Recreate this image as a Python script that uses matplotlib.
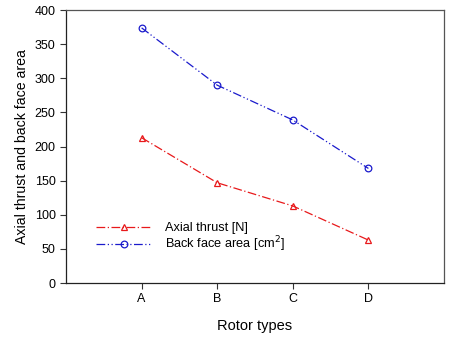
import matplotlib
matplotlib.use("Agg")
import matplotlib.pyplot as plt

# Data
rotors = ["A", "B", "C", "D"]
axial_thrust = [213, 147, 113, 63]
back_face_area = [374, 290, 239, 168]
y_ticks = [0, 50, 100, 150, 200, 250, 300, 350, 400]

plt.rcParams['font.family'] = ['Liberation Sans', 'DejaVu Sans']

fig = plt.figure(figsize=(4.54, 3.37), dpi=100)
ax = fig.add_axes([0.1454, 0.160, 0.8326, 0.810])

x = list(range(1, len(rotors) + 1))

ax.plot(x, axial_thrust, color='#e8191b', linewidth=0.9,
        dashes=(7, 2, 1, 2), marker='^', markersize=4.8,
        markerfacecolor='none', markeredgecolor='#e8191b', markeredgewidth=0.9,
        label='Axial thrust [N]')
ax.plot(x, back_face_area, color='#1a1acc', linewidth=0.9,
        dashes=(7, 2, 1, 2, 1, 2), marker='o', markersize=4.8,
        markerfacecolor='none', markeredgecolor='#1a1acc', markeredgewidth=0.9,
        label='Back face area [cm$^2$]')

ax.set_xlim(0, 5)
ax.set_ylim(0, 400)
ax.set_xticks(x)
ax.set_xticklabels(rotors)
ax.set_yticks(y_ticks)
ax.tick_params(direction='out', length=4, width=0.8, labelsize=9, color='#333333')

for side in ['top', 'right']:
    ax.spines[side].set_color('#555555')
for side in ['left', 'bottom']:
    ax.spines[side].set_color('#222222')
for s in ax.spines.values():
    s.set_linewidth(0.9)

ax.set_xlabel('Rotor types', fontsize=10.5, labelpad=10)
ax.set_ylabel('Axial thrust and back face area', fontsize=10.2, labelpad=4)

ax.legend(loc='lower left', bbox_to_anchor=(0.05, 0.065), frameon=False,
          fontsize=9.2, handlelength=4.3, handletextpad=1.1, labelspacing=0.02)

fig.savefig('out.png', dpi=100)
plt.close(fig)
